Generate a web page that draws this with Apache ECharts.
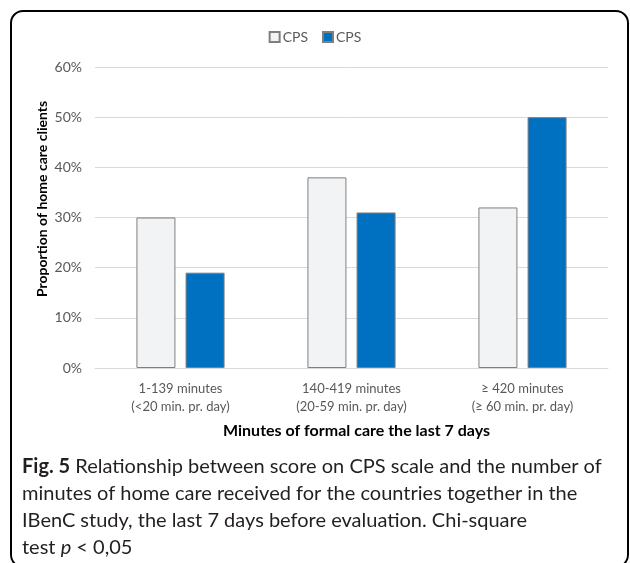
<!DOCTYPE html>
<html>
<head>
<meta charset="utf-8">
<script src="https://cdn.jsdelivr.net/npm/echarts@6/dist/echarts.min.js"></script>
<style>
    html, body { margin: 0; padding: 0; background: #fff; }
    #chart { width: 630px; height: 563px; }
</style>
</head>
<body>
<div id="chart"></div>
<script>
// categories and values (percent of home care clients)
const categories = ['1-139 minutes\n(<20 min. pr. day)', '140-419 minutes\n(20-59 min. pr. day)', '\u2265 420 minutes\n(\u2265 60 min. pr. day)'];
const seriesNames = ['CPS', 'CPS '];
const lowCps = [30, 38, 32];
const highCps = [19, 31, 50];
const yTicks = [0, 60, 10]; // min, max, step

const chart = echarts.init(document.getElementById('chart'));
const font = 'Lato, "Open Sans", sans-serif';

let option = {
    animation: false,
    textStyle: { fontFamily: font },
    legend: {
        top: 25,
        left: 'center',
        itemWidth: 10,
        itemHeight: 10,
        itemGap: 14,
        icon: 'rect',
        formatter: name => name.trim(),
        textStyle: { color: '#595959', fontSize: 14, fontFamily: font, padding: [0, 0, 0, -2] }
    },
    grid: { left: 95, right: 22, top: 67, bottom: 195 },
    xAxis: {
        type: 'category',
        data: categories,
        axisLine: { lineStyle: { color: '#d9d9d9' } },
        axisTick: { show: false },
        axisLabel: { color: '#595959', fontSize: 13, lineHeight: 18, margin: 12, interval: 0 },
        name: 'Minutes of formal care the last 7 days',
        nameLocation: 'middle',
        nameGap: 55,
        nameTextStyle: { color: '#000', fontSize: 16, fontWeight: 'bold', padding: [0, 0, 0, 10] }
    },
    yAxis: {
        type: 'value',
        min: yTicks[0],
        max: yTicks[1],
        interval: yTicks[2],
        axisLabel: { formatter: '{value}%', color: '#595959', fontSize: 14, margin: 13 },
        splitLine: { lineStyle: { color: '#d9d9d9' } },
        axisLine: { show: false },
        axisTick: { show: false }
    },
    series: [{
        name: seriesNames[0],
        type: 'bar',
        data: lowCps,
        barWidth: 39,
        barGap: '26%',
        itemStyle: { color: '#f2f3f5', borderColor: '#7f7f7f', borderWidth: 1 }
    }, {
        name: seriesNames[1],
        type: 'bar',
        data: highCps,
        barWidth: 39,
        barGap: '26%',
        itemStyle: { color: '#0070c0', borderColor: '#7f7f7f', borderWidth: 1 }
    }],
    graphic: [{
        type: 'rect',
        shape: { x: 11, y: 11, width: 617, height: 556, r: 12 },
        style: { fill: 'none', stroke: '#000', lineWidth: 2 },
        silent: true
    }, {
        // y axis title, sits a little above the plot centre like the original
        type: 'text',
        x: 42,
        y: 199,
        rotation: Math.PI / 2,
        style: {
            text: 'Proportion of home care clients',
            fontFamily: font,
            fontSize: 14,
            fontWeight: 'bold',
            fill: '#000',
            align: 'center',
            verticalAlign: 'middle'
        }
    }, {
        type: 'text',
        left: 22,
        top: 453,
        style: {
            text: '{b|Fig. 5} Relationship between score on CPS scale and the number of\n' +
                  'minutes of home care received for the countries together in the\n' +
                  'IBenC study, the last 7 days before evaluation. Chi-square\n' +
                  'test {i|p} < 0,05',
            fontFamily: font,
            fontSize: 20,
            lineHeight: 27,
            fill: '#231f20',
            rich: {
                b: { fontWeight: 'bold', fontSize: 20, fontFamily: font, fill: '#231f20' },
                i: { fontStyle: 'italic', fontSize: 20, fontFamily: font, fill: '#231f20' }
            }
        }
    }]
};
chart.setOption(option);
</script>
</body>
</html>
